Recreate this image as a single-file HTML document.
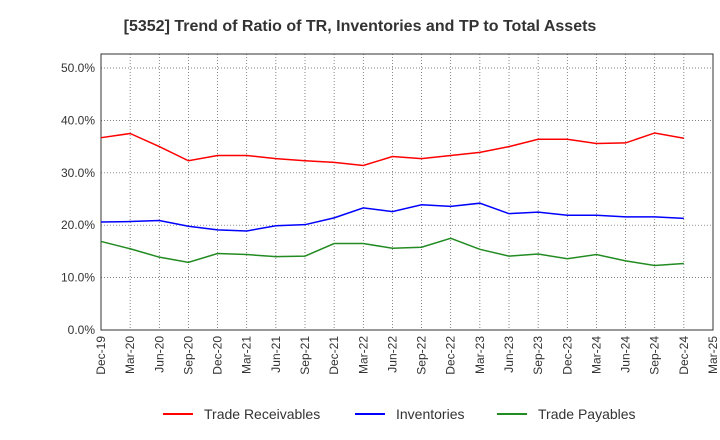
<!DOCTYPE html>
<html><head><meta charset="utf-8"><style>
body{margin:0;background:#fff;}
svg{font-family:"Liberation Sans",sans-serif;display:block;}
</style></head><body>
<svg id="chart" width="720" height="440">
<text x="360" y="31" text-anchor="middle" font-size="16" font-weight="bold" fill="#333">[5352]  Trend of Ratio of TR, Inventories and TP to Total Assets</text>
<g id="grid"></g><g id="axes"></g><g id="series"></g>
<g id="legend"></g>
</svg>
<script>
const categories=["Dec-19","Mar-20","Jun-20","Sep-20","Dec-20","Mar-21","Jun-21","Sep-21","Dec-21","Mar-22","Jun-22","Sep-22","Dec-22","Mar-23","Jun-23","Sep-23","Dec-23","Mar-24","Jun-24","Sep-24","Dec-24","Mar-25"];
const tradeReceivables=[36.7,37.5,35.0,32.3,33.3,33.3,32.7,32.3,32.0,31.4,33.1,32.7,33.3,33.9,35.0,36.4,36.4,35.6,35.7,37.6,36.6];
const inventories=[20.6,20.7,20.9,19.8,19.1,18.9,19.9,20.1,21.4,23.3,22.6,23.9,23.6,24.2,22.2,22.5,21.9,21.9,21.6,21.6,21.3];
const tradePayables=[16.9,15.5,13.9,12.9,14.6,14.4,14.0,14.1,16.5,16.5,15.6,15.8,17.5,15.4,14.1,14.5,13.6,14.4,13.2,12.3,12.7];
const yTicks=[0,10,20,30,40,50];
const seriesNames=["Trade Receivables","Inventories","Trade Payables"];
const seriesColors=["#ff0000","#0000ff","#228b22"];

const NS="http://www.w3.org/2000/svg";
const L=101,R=713,T=54,B=330;
const x=i=>L+(R-L)*i/(categories.length-1);
const y=v=>B-(B-68)*v/50;
function mk(tag,attrs,parent){const e=document.createElementNS(NS,tag);for(const k in attrs)e.setAttribute(k,attrs[k]);parent.appendChild(e);return e;}
const grid=document.getElementById('grid'),axes=document.getElementById('axes'),ser=document.getElementById('series'),leg=document.getElementById('legend');
const frame=mk('rect',{x:L,y:T,width:R-L,height:B-T,fill:'none',stroke:'#333','stroke-width':1},axes);


categories.forEach((c,i)=>{
  if(i>0&&i<categories.length-1){const g=mk('line',{x1:x(i),x2:x(i),y1:T,y2:B,stroke:'#555','stroke-width':0.7,'stroke-dasharray':'1,2'},grid);
  
  }
  const t=mk('text',{transform:`translate(${x(i)+4},${B+6}) rotate(-90)`,'text-anchor':'end','font-size':12,fill:'#333'},axes);
  t.textContent=c;
  
  
});
yTicks.forEach(v=>{
  if(v>0){const g=mk('line',{x1:L,x2:R,y1:y(v),y2:y(v),stroke:'#555','stroke-width':0.7,'stroke-dasharray':'1,2'},grid);
  
  }
  const t=mk('text',{x:L-6,y:y(v)+4,'text-anchor':'end','font-size':12,fill:'#333'},axes);
  t.textContent=v.toFixed(1)+'%';
  
  
});
[tradeReceivables,inventories,tradePayables].forEach((d,s)=>{
  const p=mk('polyline',{points:d.map((v,i)=>x(i)+','+y(v)).join(' '),fill:'none',stroke:seriesColors[s],'stroke-width':1.5},ser);
  
  
});
const lx=[163,355,497];
seriesNames.forEach((n,s)=>{
  const l=mk('line',{x1:lx[s],x2:lx[s]+30,y1:414,y2:414,stroke:seriesColors[s],'stroke-width':2},leg);
  
  
  const t=mk('text',{x:lx[s]+41,y:419,'font-size':14,fill:'#333'},leg);
  t.textContent=n;
  
  
});
</script>
</body></html>
